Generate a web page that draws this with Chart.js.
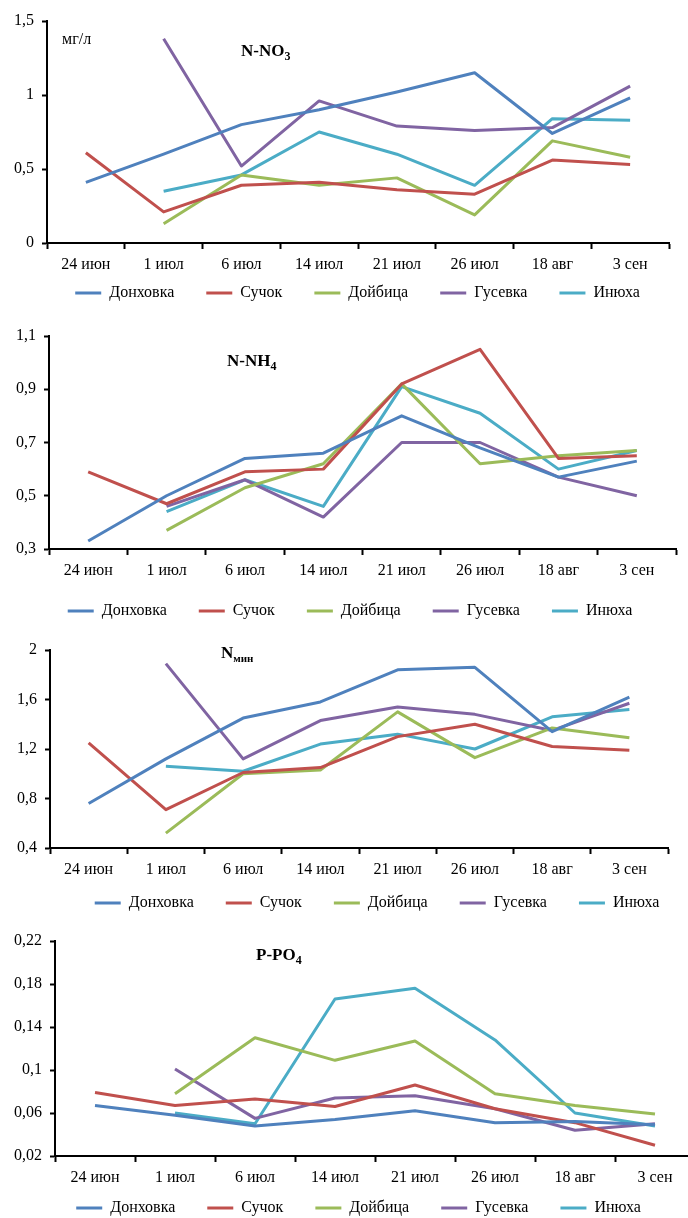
<!DOCTYPE html>
<html lang="ru">
<head>
<meta charset="utf-8">
<title>Динамика биогенных веществ</title>
<script src="https://cdn.jsdelivr.net/npm/chart.js@4.4.1/dist/chart.umd.min.js"></script>
<style>
  html, body { margin: 0; padding: 0; background: #fff; overflow: hidden; }
  body { width: 688px; height: 1218px; position: relative; font-family: 'Liberation Serif', 'Times New Roman', serif; }
  canvas { position: absolute; left: 0; }
  .label { position: absolute; color: #000; white-space: nowrap; line-height: 1; }
  .unit { font-size: 16px; }
  .title { font-weight: bold; font-size: 17px; }
  .title sub { font-size: 12px; line-height: 0; vertical-align: -4px; }
</style>
</head>
<body>
<canvas id="no3" width="688" height="333" style="top:0px"></canvas>
<canvas id="nh4" width="688" height="328" style="top:311px"></canvas>
<canvas id="nmin" width="688" height="310" style="top:628px"></canvas>
<canvas id="po4" width="700" height="325" style="top:921px"></canvas>

<div class="label unit" style="left:62px; top:31px">мг/л</div>
<div class="label title" style="left:241px; top:42px">N-NO<sub>3</sub></div>
<div class="label title" style="left:227px; top:352px">N-NH<sub>4</sub></div>
<div class="label title" style="left:221px; top:644px">N<sub style="font-size:11px">мин</sub></div>
<div class="label title" style="left:256px; top:946px">P-PO<sub>4</sub></div>

<script>
const dates = ['24 июн', '1 июл', '6 июл', '14 июл', '21 июл', '26 июл', '18 авг', '3 сен']
const rivers = ['Донховка', 'Сучок', 'Дойбица', 'Гусевка', 'Инюха']
const colors = ['#4F81BD', '#C0504D', '#9BBB59', '#8064A2', '#4BACC6']

// N-NO3, мг/л
const no3Donkhovka = [0.41, 0.60, 0.80, 0.90, 1.02, 1.15, 0.74, 0.98]
const no3Suchok    = [0.61, 0.21, 0.39, 0.41, 0.36, 0.33, 0.56, 0.53]
const no3Doibitsa  = [null, 0.13, 0.46, 0.39, 0.44, 0.19, 0.69, 0.58]
const no3Gusevka   = [null, 1.38, 0.52, 0.96, 0.79, 0.76, 0.78, 1.06]
const no3Inyukha   = [null, 0.35, 0.46, 0.75, 0.60, 0.39, 0.84, 0.83]
const no3Ticks = [0, 0.5, 1, 1.5]

// N-NH4
const nh4Donkhovka = [0.33, 0.50, 0.64, 0.66, 0.80, 0.68, 0.57, 0.63]
const nh4Suchok    = [0.59, 0.47, 0.59, 0.60, 0.92, 1.05, 0.64, 0.65]
const nh4Doibitsa  = [null, 0.37, 0.53, 0.62, 0.92, 0.62, 0.65, 0.67]
const nh4Gusevka   = [null, 0.46, 0.56, 0.42, 0.70, 0.70, 0.57, 0.50]
const nh4Inyukha   = [null, 0.44, 0.56, 0.46, 0.91, 0.81, 0.60, 0.67]
const nh4Ticks = [0.3, 0.5, 0.7, 0.9, 1.1]

// N мин
const nminDonkhovka = [0.76, 1.12, 1.45, 1.58, 1.84, 1.86, 1.34, 1.62]
const nminSuchok    = [1.25, 0.71, 1.01, 1.05, 1.30, 1.40, 1.22, 1.19]
const nminDoibitsa  = [null, 0.52, 1.00, 1.03, 1.50, 1.13, 1.37, 1.29]
const nminGusevka   = [null, 1.89, 1.12, 1.43, 1.54, 1.48, 1.35, 1.57]
const nminInyukha   = [null, 1.06, 1.02, 1.24, 1.32, 1.20, 1.46, 1.52]
const nminTicks = [0.4, 0.8, 1.2, 1.6, 2]

// P-PO4
const po4Donkhovka = [0.067, 0.058, 0.048, 0.054, 0.062, 0.051, 0.052, 0.049]
const po4Suchok    = [0.079, 0.067, 0.073, 0.066, 0.086, 0.064, 0.051, 0.030]
const po4Doibitsa  = [null, 0.078, 0.130, 0.109, 0.127, 0.078, 0.067, 0.059]
const po4Gusevka   = [null, 0.101, 0.055, 0.074, 0.076, 0.064, 0.044, 0.050]
const po4Inyukha   = [null, 0.060, 0.050, 0.166, 0.176, 0.128, 0.060, 0.048]
const po4Ticks = [0.02, 0.06, 0.1, 0.14, 0.18, 0.22]

Chart.defaults.font.family = "'Liberation Serif', 'Times New Roman', serif"
Chart.defaults.font.size = 16
Chart.defaults.color = '#000'

// moves the legend box after layout, so it sits closer to the axis like in Excel
const legendNudge = {
  id: 'legendNudge',
  afterLayout(chart, args, opts) {
    const legend = chart.legend
    if (!legend) return
    legend.left += opts.dx
    legend.right += opts.dx
    legend.top += opts.dy
    legend.bottom += opts.dy
  }
}

function drawPanel(id, series, ticks, box) {
  new Chart(document.getElementById(id), {
    type: 'line',
    data: {
      labels: dates,
      datasets: series.map((values, i) => ({
        label: rivers[i],
        data: values,
        borderColor: colors[i],
        backgroundColor: colors[i],
        borderWidth: 3,
        borderJoinStyle: 'round',
        pointRadius: 0,
        tension: 0,
        spanGaps: false
      }))
    },
    plugins: [legendNudge],
    options: {
      responsive: false,
      animation: false,
      devicePixelRatio: 1,
      layout: { padding: { top: box.top, right: box.right, left: 0, bottom: 0 } },
      plugins: {
        tooltip: { enabled: false },
        legendNudge: { dx: box.dx, dy: box.dy },
        legend: {
          position: 'bottom',
          labels: {
            boxWidth: 26,
            boxHeight: 3,
            padding: 32,
            color: '#000',
            generateLabels(chart) {
              const items = Chart.defaults.plugins.legend.labels.generateLabels(chart)
              items.forEach(item => {
                item.fillStyle = item.strokeStyle
                item.lineWidth = 0
              })
              return items
            }
          }
        }
      },
      scales: {
        x: {
          offset: true,
          afterFit(scale) { scale.height = 32 },
          grid: { offset: true, drawOnChartArea: false, color: '#000', tickLength: 6, tickWidth: 2 },
          border: { color: '#000', width: 2 },
          ticks: { color: '#000', padding: 6, maxRotation: 0, autoSkip: false }
        },
        y: {
          min: ticks[0],
          max: ticks[ticks.length - 1],
          afterFit(scale) { scale.width = box.left },
          afterBuildTicks(scale) { scale.ticks = ticks.map(v => ({ value: v })) },
          grid: { drawOnChartArea: false, color: '#000', tickLength: 5, tickWidth: 2 },
          border: { color: '#000', width: 2 },
          ticks: { color: '#000', padding: 8, callback: v => String(v).replace('.', ',') }
        }
      }
    }
  })
}

drawPanel('no3', [no3Donkhovka, no3Suchok, no3Doibitsa, no3Gusevka, no3Inyukha], no3Ticks,
  { top: 21, right: 19, left: 47, dx: 23, dy: -22 })
drawPanel('nh4', [nh4Donkhovka, nh4Suchok, nh4Doibitsa, nh4Gusevka, nh4Inyukha], nh4Ticks,
  { top: 25, right: 12, left: 49, dx: 12, dy: -10 })
drawPanel('nmin', [nminDonkhovka, nminSuchok, nminDoibitsa, nminGusevka, nminInyukha], nminTicks,
  { top: 22, right: 20, left: 50, dx: 43, dy: -17 })
drawPanel('po4', [po4Donkhovka, po4Suchok, po4Doibitsa, po4Gusevka, po4Inyukha], po4Ticks,
  { top: 20, right: 5, left: 55, dx: 11, dy: -20 })
</script>
</body>
</html>
